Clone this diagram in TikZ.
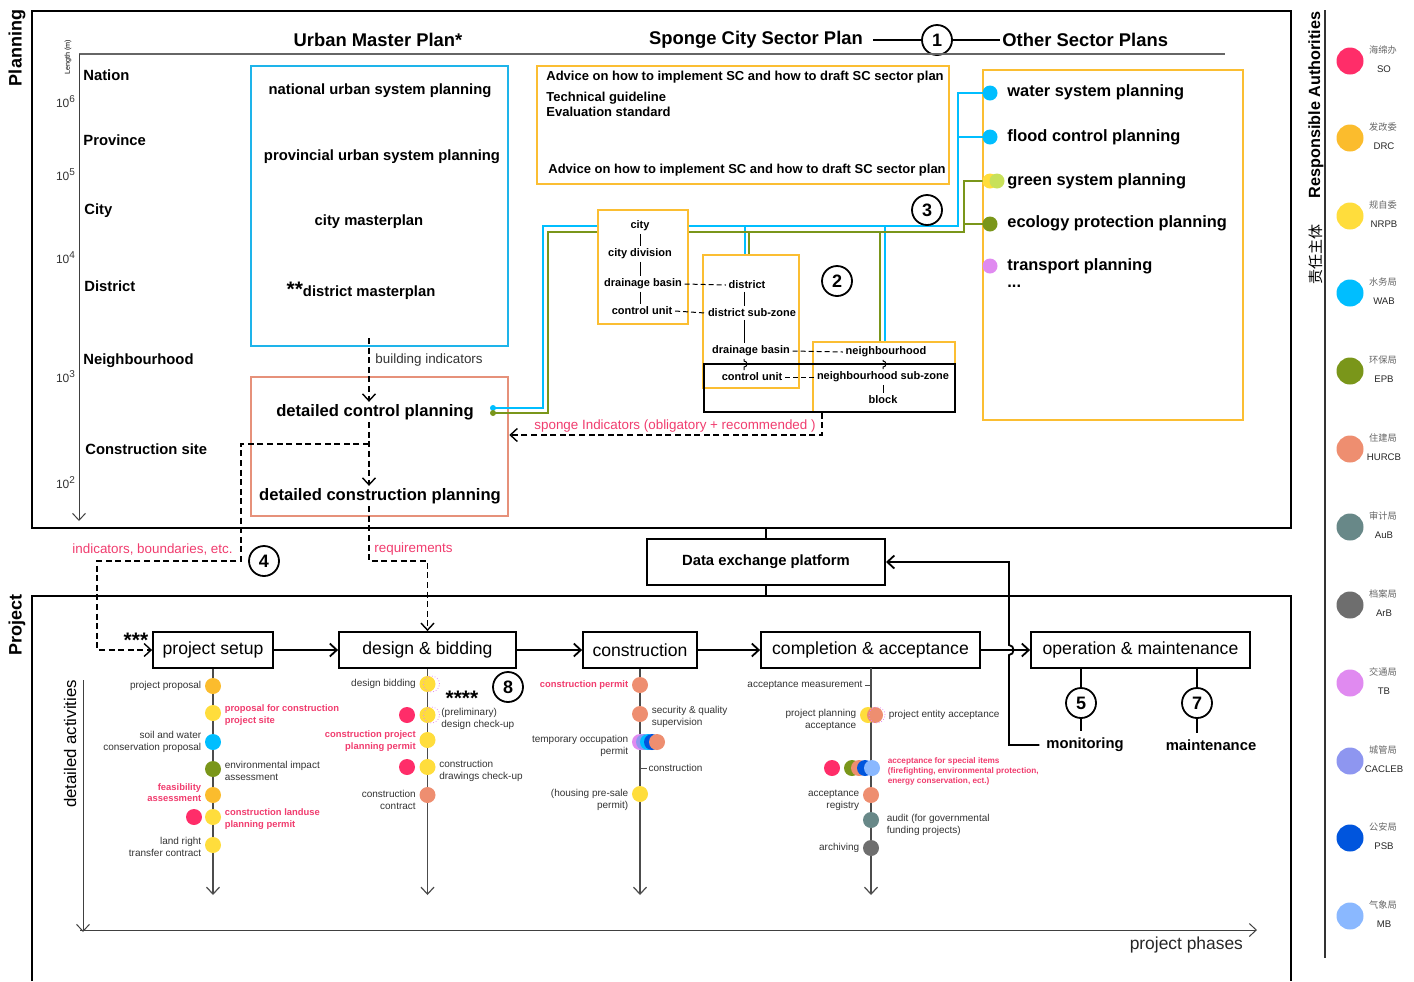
\documentclass[tikz,border=0pt]{standalone}
\usepackage{fontspec}
\setmainfont{Liberation Sans}
\newfontfamily\cjk{Noto Sans CJK SC}
\usetikzlibrary{arrows.meta}
\newcommand\fsz[2]{\fontsize{#1pt}{#2pt}\selectfont}
\definecolor{cSO}{RGB}{255,45,105}
\definecolor{cDRC}{RGB}{251,188,45}
\definecolor{cNRPB}{RGB}{255,221,60}
\definecolor{cWAB}{RGB}{0,190,255}
\definecolor{cEPB}{RGB}{122,150,26}
\definecolor{cHUR}{RGB}{238,142,112}
\definecolor{cAuB}{RGB}{104,136,136}
\definecolor{cArB}{RGB}{110,110,110}
\definecolor{cTB}{RGB}{224,138,240}
\definecolor{cCAC}{RGB}{142,150,240}
\definecolor{cPSB}{RGB}{0,85,221}
\definecolor{cMB}{RGB}{138,184,255}
\definecolor{cLG}{RGB}{200,225,90}
\definecolor{cBox}{RGB}{30,180,234}
\definecolor{cSal}{RGB}{230,145,122}
\definecolor{cPink}{RGB}{240,60,110}
\definecolor{cYB}{RGB}{251,190,50}
\tikzset{
 frm/.style={line width=1pt},
 hdr/.style={font=\fsz{9.2}{10}\bfseries, inner sep=1pt},
 lvl/.style={font=\fsz{7.4}{8}\bfseries, anchor=west, inner sep=0pt},
 tickl/.style={font=\fsz{6}{7}, inner sep=0pt, text=black!80},
 ump/.style={font=\fsz{7.4}{8}\bfseries, inner sep=1pt},
 dcp/.style={font=\fsz{8.3}{9}\bfseries, inner sep=1pt},
 scs/.style={font=\fsz{6.5}{7.2}\bfseries, anchor=west, inner sep=0pt, align=left},
 osp/.style={font=\fsz{8.2}{9}\bfseries, anchor=west, inner sep=0pt},
 subt/.style={font=\fsz{5.5}{6}\bfseries, inner sep=1.2pt},
 numc/.style={circle, draw, line width=0.9pt, fill=white, minimum size=15pt, inner sep=0pt, font=\fsz{9}{9}\bfseries},
 phasebox/.style={draw, line width=0.9pt, minimum height=18pt, inner sep=2pt, font=\fsz{8.8}{10}},
 actdot/.style={circle, minimum size=8pt, inner sep=0pt},
 ringdot/.style={circle, minimum size=8pt, inner sep=0pt, draw=cTB, densely dotted, line width=0.4pt},
 authdot/.style={circle, minimum size=13.5pt, inner sep=0pt},
 actlab/.style={font=\fsz{5}{6}, text=black!80, inner sep=1.5pt},
 plab/.style={font=\fsz{4.7}{5.8}\bfseries, text=cPink, inner sep=1.5pt},
 pinkt/.style={font=\fsz{6.7}{7.5}, text=cPink, inner sep=1pt},
 vtip/.style={-{Straight Barb[length=3.5pt,width=6.5pt]}},
 dshd/.style={dash pattern=on 3pt off 1.8pt, line width=0.7pt},
 sublink/.style={dash pattern=on 2.5pt off 1.5pt, line width=0.5pt},
 bline/.style={line width=1.3pt, cWAB},
 gline/.style={line width=1.3pt, cEPB},
}
\begin{document}
\begin{tikzpicture}[x=0.5pt,y=-0.5pt]
\useasboundingbox (0,0) rectangle (1414,981);
% ---------------- frames
\draw[frm] (32,11) rectangle (1291,528);
\draw[frm] (32,981) -- (32,596) -- (1291,596) -- (1291,981);
\node[rotate=90,font=\fsz{9}{10}\bfseries] (tPlanning) at (17,48) {Planning};
\node[rotate=90,font=\fsz{9}{10}\bfseries] (tProject) at (17,625) {Project};
% ---------------- responsible authorities
\draw[line width=0.6pt, black!80] (1325,10) -- (1325,958);
\node[rotate=90,font=\fsz{8.1}{9}\bfseries] (tRA) at (1316,105) {Responsible Authorities};
\node[rotate=90,font=\cjk\fsz{7.5}{8}] (tZT) at (1316,254) {责任主体};
\foreach \yy/\cc/\cn/\en in {61/cSO/海绵办/SO, 138/cDRC/发改委/DRC, 216/cNRPB/规自委/NRPB, 293/cWAB/水务局/WAB, 371/cEPB/环保局/EPB, 449/cHUR/住建局/HURCB, 527/cAuB/审计局/AuB, 605/cArB/档案局/ArB, 683/cTB/交通局/TB, 761/cCAC/城管局/CACLEB, 838/cPSB/公安局/PSB, 916/cMB/气象局/MB}{
  \node[authdot,fill=\cc] (a\en) at (1350,\yy) {};
  \node[font=\cjk\fsz{4.6}{5},text=black!60,inner sep=0pt] (c\en) at (1383,\yy-11) {\cn};
  \node[font=\fsz{4.8}{5},inner sep=0pt,text=black!85] (e\en) at (1384,\yy+8) {\en};
}
% ---------------- header
\node[hdr] (tUMP) at (378,40) {Urban Master Plan*};
\node[hdr] (tSCSP) at (756,40) {Sponge City Sector Plan};
\node[numc] (n1) at (937,40) {1};
\node[hdr,anchor=west] (tOSP) at (1000,40) {Other Sector Plans};
\draw[line width=0.8pt] ([xshift=4pt]tSCSP.east) -- (n1);
\draw[line width=0.8pt] (n1) -- (tOSP.west);
\draw[black!60, line width=0.6pt] (79,54) -- (1225,54);
% ---------------- scale axis
\draw[black!75, line width=0.5pt, vtip] (79,54) -- (79,521);
\node[rotate=90, font=\fsz{3.6}{4}, inner sep=0pt] (tLen) at (68,57) {Length (m)};
\foreach \yy/\ee in {102/6,175/5,258/4,377/3,483/2}
  \node[tickl] (tk\ee) at (66,\yy) {10\textsuperscript{\ee}};
\node[lvl] (lNation) at (83,75) {Nation};
\node[lvl] (lProvince) at (83,140) {Province};
\node[lvl] (lCity) at (84,211) {City};
\node[lvl] (lDistrict) at (84,286) {District};
\node[lvl] (lNeigh) at (83,361) {Neighbourhood};
\node[lvl] (lSite) at (85,449) {Construction site};
% ---------------- urban master plan
\node[draw=cBox,line width=1.3pt,minimum width=128.5pt,minimum height=140pt,inner sep=0pt] (umbox) at (379.5,206) {};
\node[ump] (u1) at (380,91) {national urban system planning};
\node[ump] (u2) at (382,157) {provincial urban system planning};
\node[ump] (u3) at (369,222) {city masterplan};
\node[ump] (u4) at (361,291) {{\fsz{10.5}{10}**}district masterplan};
\node[draw=cSal,line width=1.3pt,minimum width=128.5pt,minimum height=69.5pt,inner sep=0pt] (dpbox) at (379.5,446.5) {};
\node[dcp] (tDCP) at (375,412) {detailed control planning};
\node[dcp] (tDCoP) at (380,496) {detailed construction planning};
\coordinate (ax) at (369,0);
\coordinate (biS) at (369,338);
\draw[dshd,vtip] (biS) -- (ax |- tDCP.north);
\node[font=\fsz{6.7}{7.5},text=black!80,anchor=west,inner sep=0pt] (tBI) at (375,360) {building indicators};
\draw[dshd,vtip] (tDCP.south -| ax) -- (ax |- tDCoP.north);
% ---------------- sponge city sector plan
\node[draw=cYB,line width=1.3pt,minimum width=206pt,minimum height=59pt,inner sep=0pt] (scbox) at (743,125) {};
\node[scs] (s1) at (546,77) {Advice on how to implement SC and how to draft SC sector plan};
\node[scs] (s2) at (546,104.5) {Technical guideline\\Evaluation standard};
\node[scs] (s3) at (548,170) {Advice on how to implement SC and how to draft SC sector plan};
% ---------------- other sector plans
\node[draw=cYB,line width=1.3pt,minimum width=130pt,minimum height=175pt,inner sep=0pt] (osbox) at (1113,245) {};
% connectors blue / green
\draw[bline] (990,93) -- (958,93) -- (958,226) -- (543,226) -- (543,408) -- (494,408);
\draw[bline] (990,137) -- (958,137);
\draw[bline] (745,226) -- (745,256);
\draw[bline] (885,226) -- (885,343);
\draw[gline] (988,181) -- (964,181) -- (964,232) -- (548,232) -- (548,413) -- (494,413);
\draw[gline] (990,224) -- (964,224);
\draw[gline] (749,232) -- (749,256);
\draw[gline] (880,232) -- (880,343);
\node[circle,fill=cWAB,minimum size=3pt,inner sep=0pt] (dcpB) at (493,408) {};
\node[circle,fill=cEPB,minimum size=3pt,inner sep=0pt] (dcpG) at (493,413) {};
\node[actdot,fill=cWAB,minimum size=7.5pt] (dW) at (990,93) {};
\node[actdot,fill=cWAB,minimum size=7.5pt] (dF) at (990,137) {};
\node[actdot,fill=cNRPB,minimum size=7.5pt] (dG1) at (990,181) {};
\node[actdot,fill=cLG,minimum size=7.5pt] (dG2) at (997,181) {};
\node[actdot,fill=cEPB,minimum size=7.5pt] (dE) at (990,224) {};
\node[actdot,fill=cTB,minimum size=7.5pt] (dT) at (990,266) {};
\node[osp] (tW) at (1007,92) {water system planning};
\node[osp] (tF) at (1007,137) {flood control planning};
\node[osp] (tG) at (1007,181) {green system planning};
\node[osp] (tE) at (1007,223) {ecology protection planning};
\node[osp] (tT) at (1007,266) {transport planning};
\node[osp] (tDots) at (1007,286) {...};
% ---------------- spatial units sub-diagram
\node[draw=cYB,fill=white,line width=1.1pt,minimum width=45pt,minimum height=57pt,inner sep=0pt] (cbox) at (643,267) {};
\node[draw=cYB,fill=white,line width=1.1pt,minimum width=48pt,minimum height=66.5pt,inner sep=0pt] (dbox) at (751,321.5) {};
\node[draw=cYB,fill=white,line width=1.1pt,minimum width=71pt,minimum height=35pt,inner sep=0pt] (nbox) at (884,377) {};
\node[draw=black,line width=0.8pt,minimum width=125.5pt,minimum height=24pt,inner sep=0pt] (bbox) at (829.5,388) {};
\node[subt] (c1) at (640,226) {city};
\node[subt] (c2) at (640,254) {city division};
\node[subt] (c3) at (643,284) {drainage basin};
\node[subt] (c4) at (642,311) {control unit};
\coordinate (vc) at (640,0);
\draw[line width=0.5pt] (c1.south -| vc) -- (c2.north -| vc);
\draw[line width=0.5pt] (c2.south -| vc) -- (c3.north -| vc);
\draw[line width=0.5pt] (c3.south -| vc) -- (c4.north -| vc);
\node[subt] (d1) at (747,285) {district};
\node[subt] (d2) at (752,313) {district sub-zone};
\node[subt] (d3) at (751,351) {drainage basin};
\node[subt] (d4) at (752,377) {control unit};
\coordinate (vd) at (744,0);
\draw[line width=0.5pt] (d1.south -| vd) -- (d2.north -| vd);
\draw[line width=0.5pt] (d2.south -| vd) -- (d3.north -| vd);
\draw[line width=0.5pt] (d3.south -| vd) -- (744,361) .. controls (748,361) and (748,367) .. (744,367) -- (d4.north -| vd);
\node[subt] (m1) at (886,352) {neighbourhood};
\node[subt] (m2) at (883,377) {neighbourhood sub-zone};
\node[subt] (m3) at (883,400) {block};
\coordinate (vn) at (883,0);
\draw[line width=0.5pt] (m1.south -| vn) -- (883,361) .. controls (887,361) and (887,367) .. (883,367) -- (m2.north -| vn);
\draw[line width=0.5pt] (m2.south -| vn) -- (m3.north -| vn);
\draw[sublink] (c3.east) -- (d1.west);
\draw[sublink] (c4.east) -- (d2.west);
\draw[sublink] (d3.east) -- (m1.west);
\draw[sublink] (d4.east) -- (m2.west);
\node[numc] (n2) at (837,281) {2};
\node[numc] (n3) at (927,210) {3};
% sponge indicators
\coordinate (si1) at (822,435);
\draw[dshd,vtip] (bbox.south -| si1) -- (si1) -- (si1 -| dpbox.east);
\node[pinkt,anchor=east] (tSI) at (818,426) {sponge Indicators (obligatory + recommended )};
% ---------------- data exchange platform
\node[draw,line width=1pt,minimum width=119pt,minimum height=23pt,inner sep=0pt,font=\fsz{7.4}{8}\bfseries] (dep) at (766,562) {Data exchange platform};
\draw[line width=0.9pt] (dep.north) -- ++(0,-11);
\draw[line width=0.9pt] (dep.south) -- ++(0,11);
% ---------------- project phases
\node[phasebox,minimum width=60pt] (tPS) at (213,650) {project setup};
\node[phasebox,minimum width=88.5pt] (tDB) at (427.5,650) {design \& bidding};
\node[phasebox,minimum width=57pt] (tCO) at (640,650) {construction};
\node[phasebox,minimum width=109.5pt] (tCA) at (870.5,650) {completion \& acceptance};
\node[phasebox,minimum width=109.5pt] (tOM) at (1140.5,650) {operation \& maintenance};
\draw[line width=0.9pt,vtip] (tPS) -- (tDB);
\draw[line width=0.9pt,vtip] (tDB) -- (tCO);
\draw[line width=0.9pt,vtip] (tCO) -- (tCA);
\draw[line width=0.9pt,vtip] (tCA) -- (tOM);
\node[font=\fsz{10.5}{10}\bfseries,inner sep=0pt] (st3) at (136,640) {***};
\node[font=\fsz{10.5}{10}\bfseries,inner sep=0pt] (st4) at (462,698) {****};
\node[numc] (n8) at (508,687) {8};
\node[numc] (n4) at (264,561) {4};
% planning -> project dashed links
\coordinate (ib1) at (241,444);
\coordinate (ib2) at (97,561);
\draw[dshd,vtip] (ax |- ib1) -- (ib1) -- (ib1 |- ib2) -- (ib2) -- (ib2 |- tPS) -- (tPS.west);
\node[pinkt,anchor=east] (tIB) at (235,549) {indicators, boundaries, etc.};
\coordinate (rq) at (427.5,561);
\draw[dshd,vtip] (tDCoP.south -| ax) -- (ax |- rq) -- (rq) -- (tDB.north);
\node[pinkt,anchor=west] (tRQ) at (372,549) {requirements};
% operation & maintenance
\node[font=\fsz{7.4}{8}\bfseries] (tMon) at (1085,745) {monitoring};
\node[font=\fsz{7.4}{8}\bfseries] (tMain) at (1211,745) {maintenance};
\node[numc] (n5) at (1081,703) {5};
\node[numc] (n7) at (1197,703) {7};
\draw[line width=0.8pt] (n5 |- tOM.south) -- (n5);
\draw[line width=0.8pt] (n5) -- (n5 |- tMon.north);
\draw[line width=0.8pt] (n7 |- tOM.south) -- (n7);
\draw[line width=0.8pt] (n7) -- (n7 |- tMain.north);
\draw[line width=0.9pt,vtip] (tMon.west) -- (1009,745) -- (1009,655) .. controls (1015,655) and (1015,645) .. (1009,645) -- (1009,562) -- (dep.east);
% ---------------- activity axes
\draw[black!75, line width=0.5pt, vtip] (83,680) -- (83,932);
\draw[black!75, line width=0.5pt, vtip] (80,930) -- (1257,930);
\node[rotate=90,font=\fsz{8.4}{9}] (tDA) at (70,744) {detailed activities};
\node[font=\fsz{8.7}{9},anchor=east,text=black!85] (tPP) at (1250,945) {project phases};
\coordinate (bot) at (0,895);
\draw[black!70, line width=0.6pt, vtip] (tPS.south) -- (tPS.south |- bot);
\draw[black!70, line width=0.6pt, vtip] (tDB.south) -- (tDB.south |- bot);
\draw[black!70, line width=0.6pt, vtip] (tCO.south) -- (tCO.south |- bot);
\draw[black!70, line width=0.6pt, vtip] (871,668) -- (871,895);
% column 1 : project setup
\node[actdot,fill=cDRC] (p11) at (213,686) {};
\node[actlab,anchor=east] at (p11.west) {project proposal};
\node[actdot,fill=cNRPB] (p12) at (213,713) {};
\node[plab,anchor=west,align=left] at ([yshift=-1pt]p12.east) {proposal for construction\\project site};
\node[actdot,fill=cWAB] (p13) at (213,742) {};
\node[actlab,anchor=east,align=right] at (p13.west) {soil and water\\conservation proposal};
\node[actdot,fill=cEPB] (p14) at (213,769) {};
\node[actlab,anchor=west,align=left] at ([yshift=-1pt]p14.east) {environmental impact\\assessment};
\node[actdot,fill=cDRC] (p15) at (213,795) {};
\node[plab,anchor=east,align=right] at ([yshift=1.2pt]p15.west) {feasibility\\assessment};
\node[actdot,fill=cSO] (p16r) at (194,817) {};
\node[actdot,fill=cNRPB] (p16) at (213,817) {};
\node[plab,anchor=west,align=left] at ([yshift=-1pt]p16.east) {construction landuse\\planning permit};
\node[actdot,fill=cNRPB] (p17) at (213,845) {};
\node[actlab,anchor=east,align=right] at ([yshift=-1pt]p17.west) {land right\\transfer contract};
% column 2 : design & bidding
\node[actdot,fill=cNRPB] (p21) at (427.5,684) {};
\node[ringdot] (p21o) at (431.5,684) {};
\node[actlab,anchor=east] at (p21.west) {design bidding};
\node[actdot,fill=cSO] (p22r) at (407,715) {};
\node[actdot,fill=cNRPB] (p22) at (427.5,715) {};
\node[ringdot] (p22o) at (431.5,715) {};
\node[actlab,anchor=west,align=left,inner sep=0.5pt] at (440,719) {(preliminary)\\design check-up};
\node[actdot,fill=cNRPB] (p23) at (427.5,740) {};
\node[plab,anchor=east,align=right] at ([yshift=-0.5pt]p23.west) {construction project\\planning permit};
\node[actdot,fill=cSO] (p24r) at (407,767) {};
\node[actdot,fill=cNRPB] (p24) at (427.5,767) {};
\node[actlab,anchor=west,align=left] at ([yshift=-2pt]p24.east) {construction\\drawings check-up};
\node[actdot,fill=cHUR] (p25) at (427.5,795) {};
\node[actlab,anchor=east,align=right] at ([yshift=-2.5pt]p25.west) {construction\\contract};
% column 3 : construction
\node[actdot,fill=cHUR] (p31) at (640,685) {};
\node[plab,anchor=east] at (p31.west) {construction permit};
\node[actdot,fill=cHUR] (p32) at (640,714) {};
\node[actlab,anchor=west,align=left] at ([yshift=-1.5pt]p32.east) {security \& quality\\supervision};
\node[actdot,fill=cTB] (p33a) at (640,742) {};
\node[actdot,fill=cCAC] (p33b) at (644,742) {};
\node[actdot,fill=cWAB] (p33c) at (648,742) {};
\node[actdot,fill=cPSB] (p33d) at (652,742) {};
\node[actdot,fill=cHUR] (p33e) at (657,742) {};
\node[actlab,anchor=east,align=right] at ([yshift=-2pt]p33a.west) {temporary occupation\\permit};
\draw[black!70,line width=0.5pt] (640,768) -- (647,768) node[actlab,anchor=west,inner sep=0.5pt] (tcon) {construction};
\node[actdot,fill=cNRPB] (p34) at (640,794) {};
\node[actlab,anchor=east,align=right] at ([yshift=-3pt]p34.west) {(housing pre-sale\\permit)};
% column 4 : completion & acceptance
\draw[black!70,line width=0.5pt] (871,685) -- (865,685) node[actlab,anchor=east,inner sep=1pt] (tam) {acceptance measurement};
\node[actdot,fill=cNRPB] (p42a) at (868,715) {};
\node[actdot,fill=cHUR] (p42b) at (875,715) {};
\node[ringdot] (p42o) at (877,715) {};
\node[actlab,anchor=east,align=right] at ([yshift=-2.5pt]p42a.west) {project planning\\acceptance};
\node[actlab,anchor=west] at (p42o.east) {project entity acceptance};
\node[actdot,fill=cSO] (p43r) at (832,768) {};
\node[actdot,fill=cEPB] (p43a) at (852,768) {};
\node[actdot,fill=cHUR] (p43b) at (859,768) {};
\node[actdot,fill=cPSB] (p43c) at (865,768) {};
\node[actdot,fill=cMB] (p43d) at (872,768) {};
\node[plab,font=\fsz{4.1}{5}\bfseries,anchor=west,align=left] at ([yshift=-1.5pt,xshift=2pt]p43d.east) {acceptance for special items\\(firefighting, environmental protection,\\energy conservation, ect.)};
\node[actdot,fill=cHUR] (p44) at (871,795) {};
\node[actlab,anchor=east,align=right] at ([yshift=-2.5pt]p44.west) {acceptance\\registry};
\node[actdot,fill=cAuB] (p45) at (871,820) {};
\node[actlab,anchor=west,align=left,xshift=2pt] at ([yshift=-2.5pt]p45.east) {audit (for governmental\\funding projects)};
\node[actdot,fill=cArB] (p46) at (871,848) {};
\node[actlab,anchor=east] at (p46.west) {archiving};
\end{tikzpicture}
\end{document}
